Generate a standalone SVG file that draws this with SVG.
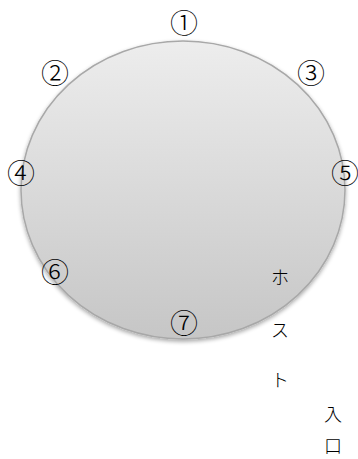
<svg xmlns="http://www.w3.org/2000/svg" width="358" height="459" viewBox="0 0 358 459">
<style>
.num{font-family:"Noto Sans CJK JP",sans-serif;font-weight:300;font-size:28px;fill:#000;text-anchor:middle;dominant-baseline:central}
.jp{font-family:"Noto Sans CJK JP",sans-serif;font-weight:300;font-size:18px;fill:#000;text-anchor:middle;dominant-baseline:central}
</style>
<defs>
<linearGradient id="g" x1="0" y1="0" x2="0" y2="1">
<stop offset="0" stop-color="#ededed"/>
<stop offset="1" stop-color="#c6c6c6"/>
</linearGradient>
<filter id="sh" x="-10%" y="-10%" width="120%" height="125%">
<feGaussianBlur in="SourceAlpha" stdDeviation="2"/>
<feOffset dy="2"/>
<feComponentTransfer><feFuncA type="linear" slope="0.35"/></feComponentTransfer>
<feMerge><feMergeNode/><feMergeNode in="SourceGraphic"/></feMerge>
</filter>
</defs>
<g id="circle">
<ellipse cx="183" cy="190" rx="162" ry="149" fill="url(#g)" stroke="#a8a8a8" stroke-width="1.5" filter="url(#sh)"/>
</g>
<g id="labels">
<text class="num" x="184" y="22">①</text>
<text class="num" x="55" y="72">②</text>
<text class="num" x="311" y="72">③</text>
<text class="num" x="21" y="172">④</text>
<text class="num" x="345" y="172">⑤</text>
<text class="num" x="55" y="271">⑥</text>
<text class="num" x="184" y="322">⑦</text>
</g>
<g id="host">
<text class="jp" x="280" y="276">ホ</text>
<text class="jp" x="280" y="329">ス</text>
<text class="jp" x="280" y="379">ト</text>
</g>
<g id="entrance">
<text class="jp" x="333" y="413">入</text>
<text class="jp" x="333" y="445">口</text>
</g>
</svg>
